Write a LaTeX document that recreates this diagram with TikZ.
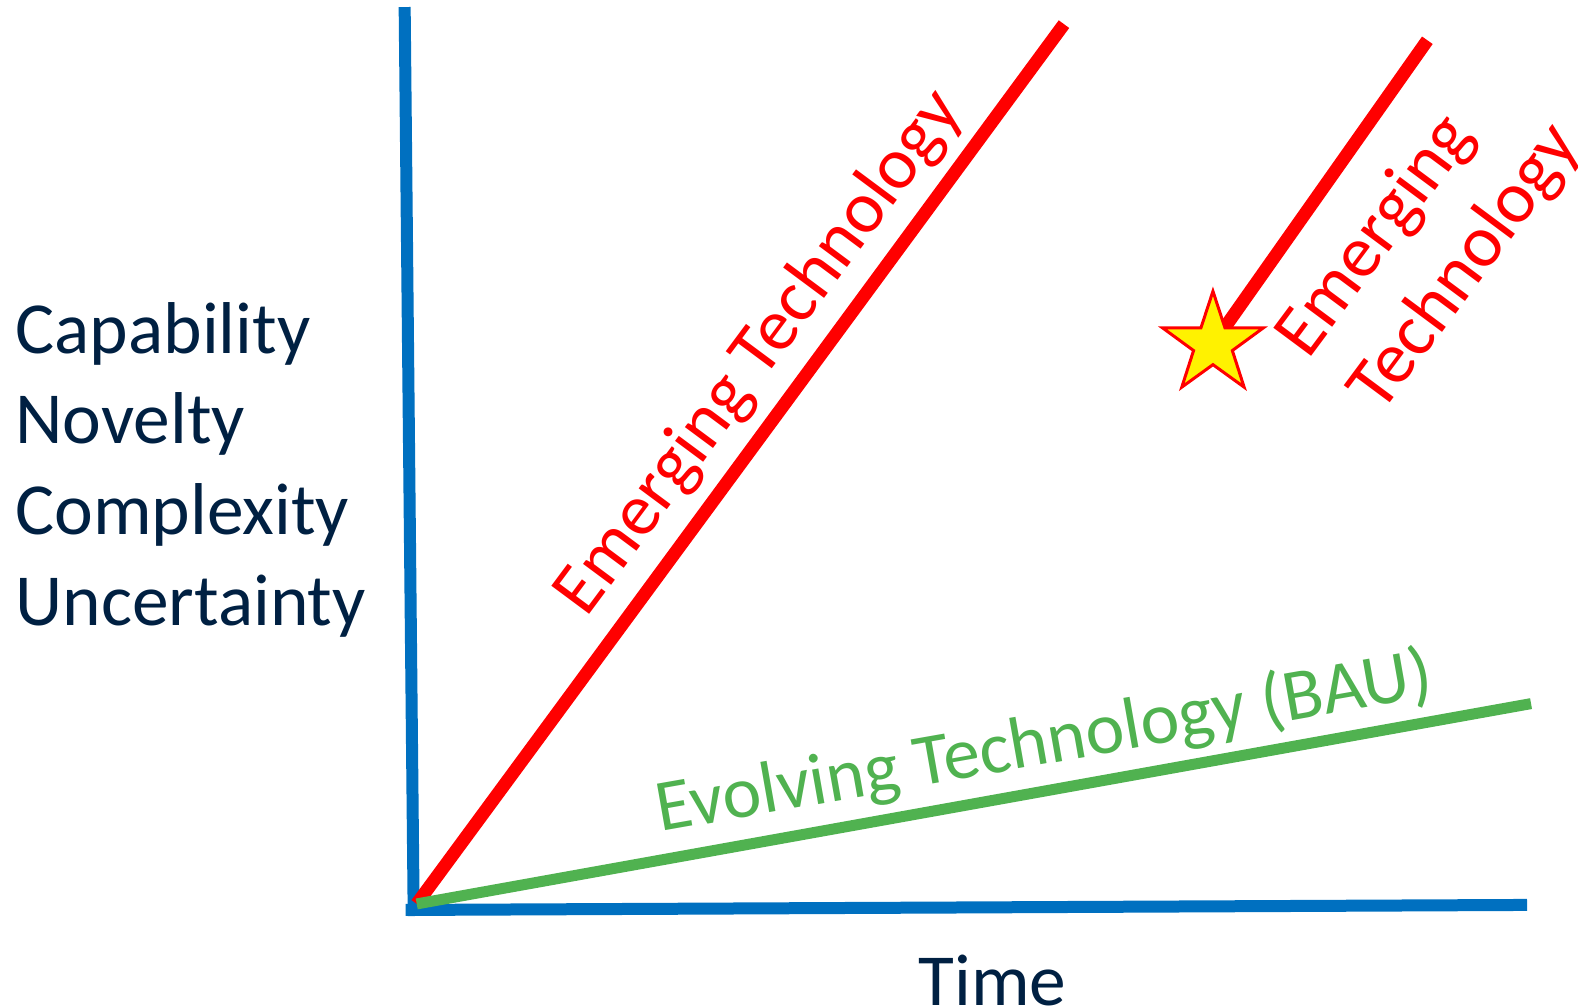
\documentclass[tikz,border=0pt]{standalone}
\usepackage{fontspec}
\setmainfont{Carlito}
\usetikzlibrary{shapes.geometric}
\definecolor{axisblue}{RGB}{0,112,192}
\definecolor{emred}{RGB}{255,0,0}
\definecolor{baugreen}{RGB}{80,178,80}
\definecolor{labelnavy}{RGB}{0,32,66}
\tikzstyle{axisline} = [draw=axisblue,line width=6pt]
\tikzstyle{emline} = [draw=emred,line width=6.5pt]
\tikzstyle{bauline} = [draw=baugreen,line width=5.5pt]
\tikzstyle{bigtext} = [font=\fontsize{36.7}{45.3}\selectfont,inner sep=0pt]
\tikzstyle{axislabel} = [bigtext,text=labelnavy]
\tikzstyle{emtext} = [bigtext,text=emred,rotate=53.4,anchor=base west]
\tikzstyle{emstar} = [star,star points=5,star point ratio=2.6,
  minimum size=53pt,inner sep=0pt,fill=yellow,draw=emred,line width=1.5pt]

\begin{document}
\begin{tikzpicture}[x=0.5033pt,y=-0.5033pt]
    \useasboundingbox (0pt,0pt) rectangle (789pt,-503pt);
    % axes
    \coordinate (origin) at (414,898);
    \coordinate (ytop) at (402,7);
    \coordinate (ybot) at (411,910);
    \coordinate (xleft) at (403,904);
    \coordinate (xend) at (1517,899);
    \draw [axisline] (ybot) -- (ytop);
    \draw [axisline] (xleft) -- (xend);
    % trend lines
    \coordinate (emtop) at (1057,24);
    \coordinate (bautop) at (1521,699);
    \draw [emline] (origin) -- (emtop);
    \draw [bauline] (origin) -- (bautop);
    % the jump of a new technology
    \coordinate (jumptop) at (1418,40);
    \coordinate (jumpend) at (1205,342);
    \draw [emline] (jumptop) -- (jumpend);
    \node [emstar] (star) at (jumpend) {};
    % labels
    \node [axislabel,anchor=north west,align=left] (yaxis) at (15,300) {%
      Capability\\Novelty\\Complexity\\Uncertainty};
    \node [axislabel,anchor=base] (xaxis) at (986,999) {Time};
    \node [emtext] (emlabel) at (582.6,615) {Emerging Technology};
    \node [emtext,align=left] (jumplabel) at (1372,412) {%
      Emerging\\Technology};
    \node [bigtext,text=baugreen,rotate=10,anchor=base west] (baulabel)
      at (656,826.6) {Evolving Technology (BAU)};
\end{tikzpicture}
\end{document}
